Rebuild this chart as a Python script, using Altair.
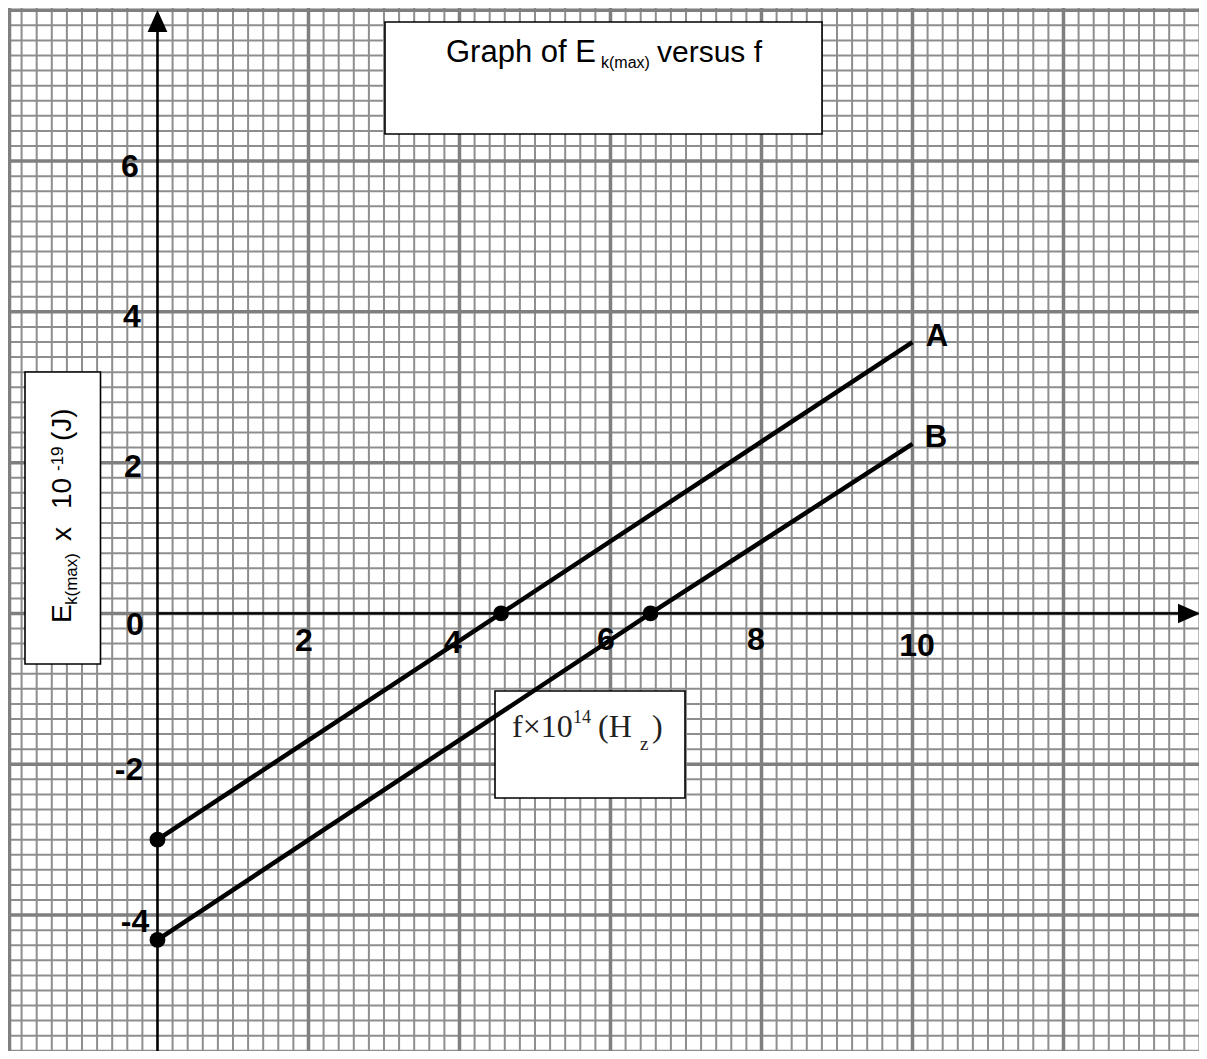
import altair as alt
import pandas as pd
import numpy as np

# ---------------- data ----------------
freq_a = [0.0, 4.55, 10.0]
ek_a = [-3.0, 0.0, 3.6]
freq_b = [0.0, 6.53, 10.0]
ek_b = [-4.33, 0.0, 2.25]
dot_freq = [0.0, 0.0, 4.55, 6.53]
dot_ek = [-3.0, -4.33, 0.0, 0.0]
x_tick_labels = ["2", "4", "6", "8", "10"]
y_tick_labels = ["6", "4", "2", "0", "-2", "-4"]
line_names = ["A", "B"]

# ---------------- layout ----------------
W, H = 1191, 1043
SX, SY = 75.5, 75.4          # pixels per unit
XMIN = -1.980
XMAX = XMIN + W / SX
YMAX = 8.03
YMIN = YMAX - H / SY


def fx(px):
    return XMIN + (px - 8) / SX


def fy(py):
    return YMAX - (py - 8) / SY


xs = alt.Scale(domain=[XMIN, XMAX], nice=False, zero=False)
ys = alt.Scale(domain=[YMIN, YMAX], nice=False, zero=False)
X = lambda f="x": alt.X(f"{f}:Q", scale=xs, axis=None)
Y = lambda f="y": alt.Y(f"{f}:Q", scale=ys, axis=None)

# ---------------- graph paper ----------------
gx = np.round(np.arange(-2, 14.001, 0.2), 2)
gy = np.round(np.arange(-6, 8.001, 0.2), 2)
is_major = lambda v: abs(v / 2 - round(v / 2)) < 1e-6
vx_min = [v for v in gx if not is_major(v)]
vx_maj = [max(v, XMIN + 0.02) for v in gx if is_major(v) and v != 0]
hy_min = [v for v in gy if not is_major(v)]
hy_maj = [v for v in gy if is_major(v)]

MINC, MAJC = "#8e8e8e", "#7f7f7f"
grid = [
    alt.Chart(pd.DataFrame({"x": vx_min})).mark_rule(color=MINC, strokeWidth=2).encode(x=X()),
    alt.Chart(pd.DataFrame({"y": hy_min})).mark_rule(color=MINC, strokeWidth=2).encode(y=Y()),
    alt.Chart(pd.DataFrame({"x": vx_maj})).mark_rule(color=MAJC, strokeWidth=3.5).encode(x=X()),
    alt.Chart(pd.DataFrame({"y": hy_maj})).mark_rule(color=MAJC, strokeWidth=3.5).encode(y=Y()),
]

# ---------------- axes with arrows ----------------
y_axis = alt.Chart(pd.DataFrame({"x": [0.0], "y": [YMIN], "y2": [fy(31)]})).mark_rule(
    color="black", strokeWidth=2.6).encode(x=X(), y=Y(), y2="y2:Q")
x_axis = alt.Chart(pd.DataFrame({"y": [0.0], "x": [0.0], "x2": [fx(1179)]})).mark_rule(
    color="black", strokeWidth=2.2).encode(y=Y(), x=X(), x2="x2:Q")
up_arrow = alt.Chart(pd.DataFrame({"x": [0.0], "y": [fy(21)]})).mark_point(
    shape="M-0.9,1L0.9,1L0,-1Z", filled=True, color="black", opacity=1, size=484).encode(x=X(), y=Y())
right_arrow = alt.Chart(pd.DataFrame({"x": [fx(1189)], "y": [0.0]})).mark_point(
    shape="M-1,-0.88L1,0L-1,0.88Z", filled=True, color="black", opacity=1, size=484).encode(x=X(), y=Y())

# ---------------- boxes ----------------
boxes = pd.DataFrame({
    "x": [fx(385), fx(25), fx(495)],
    "x2": [fx(822), fx(100.5), fx(685)],
    "y": [fy(22), fy(372), fy(691)],
    "y2": [fy(134), fy(664), fy(798)],
})
box_layer = alt.Chart(boxes).mark_rect(fill="white", stroke="black", strokeWidth=1.6).encode(
    x=X(), x2="x2:Q", y=Y(), y2="y2:Q")

# ---------------- lines and points ----------------
lines_df = pd.DataFrame({
    "f": freq_a + freq_b,
    "e": ek_a + ek_b,
    "s": ["A"] * len(freq_a) + ["B"] * len(freq_b),
})
line_layer = alt.Chart(lines_df).mark_line(color="black", strokeWidth=4.5).encode(
    x=X("f"), y=Y("e"), detail="s:N")
dot_layer = alt.Chart(pd.DataFrame({"f": dot_freq, "e": dot_ek})).mark_circle(
    color="black", opacity=1, size=250).encode(x=X("f"), y=Y("e"))

# ---------------- bold labels: ticks and line names ----------------
tick_df = pd.DataFrame({
    "t": y_tick_labels + x_tick_labels,
    "x": [fx(p) for p in [130, 132, 133, 135, 129, 135]]
         + [fx(p) for p in [304, 453, 606, 756, 917]],
    "y": [fy(p) for p in [167, 317, 467, 625, 770, 922]]
         + [fy(p) for p in [641, 643, 640, 640, 646]],
})
tick_layer = alt.Chart(tick_df).mark_text(
    font="Liberation Sans", fontWeight="bold", fontSize=32, align="center", baseline="middle",
    color="black").encode(x=X(), y=Y(), text="t:N")
name_df = pd.DataFrame({"t": line_names, "x": [fx(937), fx(936)], "y": [fy(337), fy(438)]})
name_layer = alt.Chart(name_df).mark_text(
    font="Liberation Sans", fontWeight="bold", fontSize=31, align="center", baseline="middle",
    color="black").encode(x=X(), y=Y(), text="t:N")

# ---------------- title box text ----------------
title_df = pd.DataFrame({
    "t": ["Graph of E", "k(max)", "versus f"],
    "x": [fx(446), fx(601), fx(657)],
    "y": [fy(62), fy(68), fy(62)],
    "fs": [31, 16, 30],
})
title_layer = alt.Chart(title_df).mark_text(
    font="Liberation Sans", align="left", baseline="alphabetic", color="black").encode(
    x=X(), y=Y(), text="t:N", size=alt.Size("fs:Q", scale=None))

# ---------------- y-axis title (rotated) ----------------
ylab_df = pd.DataFrame({
    "t": ["E", "k(max)", "x", "10", "-19", "(J)"],
    "x": [fx(71), fx(77), fx(71), fx(71), fx(63), fx(71)],
    "y": [fy(623), fy(605), fy(541), fy(509), fy(471), fy(441)],
    "fs": [28, 17, 28, 28, 17, 28],
})
ylab_layer = alt.Chart(ylab_df).mark_text(
    font="Liberation Sans", align="left", baseline="alphabetic", angle=270, color="black").encode(
    x=X(), y=Y(), text="t:N", size=alt.Size("fs:Q", scale=None))

# ---------------- x-axis title (serif) ----------------
xlab_df = pd.DataFrame({
    "t": ["f\u00d710", "14", "(H", "z", ")"],
    "x": [fx(512), fx(573), fx(598), fx(640), fx(652)],
    "y": [fy(737), fy(723), fy(737), fy(750), fy(737)],
    "fs": [32, 18, 32, 19, 32],
})
xlab_layer = alt.Chart(xlab_df).mark_text(
    font="Liberation Serif", align="left", baseline="alphabetic", color="#222222").encode(
    x=X(), y=Y(), text="t:N", size=alt.Size("fs:Q", scale=None))

chart = alt.layer(
    *grid, box_layer, y_axis, x_axis, up_arrow, right_arrow,
    line_layer, dot_layer, tick_layer, name_layer, title_layer, ylab_layer, xlab_layer,
).properties(
    width=W, height=H, padding=0, autosize=alt.AutoSizeParams(type="none")
).configure_view(strokeWidth=0)

chart.save("out.html", embed_options={"renderer": "svg", "actions": False})
